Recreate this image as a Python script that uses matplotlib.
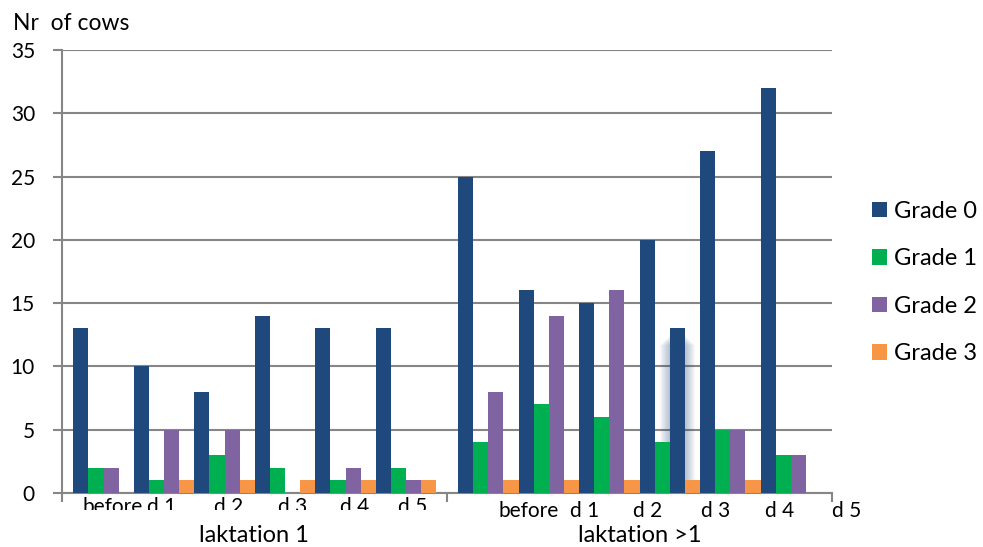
import numpy as np
import matplotlib
matplotlib.use("Agg")
from matplotlib import pyplot as plt
from matplotlib.transforms import ScaledTranslation, Bbox, TransformedBbox

plt.rcParams['font.family'] = ['Lato', 'DejaVu Sans']

# cows per udder grade, 6 sampling days for each lactation group
phases = ['before', 'd 1', 'd 2', 'd 3', 'd 4', 'd 5']
lactations = ['laktation 1', 'laktation >1']
grade0 = [13, 10, 8, 14, 13, 13, 25, 16, 15, 20, 27, 32]
grade1 = [2, 1, 3, 2, 1, 2, 4, 7, 6, 4, 5, 3]
grade2 = [2, 5, 5, 0, 2, 1, 8, 14, 16, 13, 5, 3]
grade3 = [0, 1, 1, 1, 1, 1, 1, 1, 1, 1, 1, 0]
grade_names = ['Grade 0', 'Grade 1', 'Grade 2', 'Grade 3']
yticks = [0, 5, 10, 15, 20, 25, 30, 35]

colors = ['#1F497D', '#00B050', '#8064A2', '#F79646']
gridc = '#868686'

fig = plt.figure(figsize=(9.83, 5.47), dpi=100)
ax = fig.add_axes([0.0631, 0.0987, 0.7833, 0.8099])

# group centres: second lactation block is pushed right
xpos = np.r_[np.arange(6), np.arange(6) + 6.36]
w = 0.25
series = [grade0, grade1, grade2, grade3]
containers = []
for k, vals in enumerate(series):
    bc = ax.bar(xpos + (k - 1.5) * w, vals, w, color=colors[k], zorder=3,
                linewidth=0)
    containers.append(bc)

# odd bar in the d 2 group of laktation >1, dark with a soft halo
odd = 9
containers[2][odd].set_facecolor(colors[0])
for s in range(1, 11):
    ax.bar(xpos[odd] + 0.5 * w, grade2[odd] - 0.5 - s * 0.08, w + s * 0.034,
           color='#1F497D', alpha=0.035, zorder=2, linewidth=0)

ax.set_ylim(0, 35)
ax.set_xlim(-0.686, 12.04)
ax.set_yticks(yticks)
ax.set_yticklabels([str(v) for v in yticks])
ax.yaxis.grid(True, color=gridc, linewidth=1.5, zorder=0)
ax.set_axisbelow(True)
ax.tick_params(axis='y', length=6.5, width=1.5, color=gridc, pad=13,
               labelsize=15)

# category block boundaries on the x axis
ax.set_xticks([-0.686, 5.678, 12.04])
ax.set_xticklabels([])
ax.tick_params(axis='x', length=6.5, width=1.5, color=gridc)

for side in ['top', 'right']:
    ax.spines[side].set_visible(False)
for side in ['left', 'bottom']:
    ax.spines[side].set_color(gridc)
    ax.spines[side].set_linewidth(1.5)

# day labels under each block
lab1_x = [0.157, 0.967, 2.074, 3.124, 4.157, 5.107]
lab2_x = [7.025, 7.95, 8.99, 10.12, 11.17, 12.28]
clip = TransformedBbox(Bbox([[0, 37 / 547], [1, 1]]), fig.transFigure)
down1 = ax.get_xaxis_transform() + ScaledTranslation(0, -0.20, fig.dpi_scale_trans)
down2 = ax.get_xaxis_transform() + ScaledTranslation(0, -0.24, fig.dpi_scale_trans)
for x, s in zip(lab1_x, phases):
    t = fig.text(x, 0, s, transform=down1, ha='center', va='baseline',
                 fontsize=15)
    t.set_clip_box(clip)
    t.set_clip_on(True)
for x, s in zip(lab2_x, phases):
    fig.text(x, 0, s, transform=down2, ha='center', va='baseline', fontsize=15)

down3 = ax.get_xaxis_transform() + ScaledTranslation(0, -0.49, fig.dpi_scale_trans)
for x, s in zip([2.48, 8.87], lactations):
    fig.text(x, 0, s, transform=down3, ha='center', va='baseline', fontsize=17)

fig.text(13 / 983, 1 - 30 / 547, 'Nr  of cows', ha='left', va='baseline',
         fontsize=16.5)

ax.legend(containers, grade_names, loc='center left',
          bbox_to_anchor=(872 / 983, 1 - 282.5 / 547),
          bbox_transform=fig.transFigure, frameon=False, fontsize=17,
          handlelength=0.64, handleheight=0.64, handletextpad=0.3,
          labelspacing=1.12, borderpad=0, borderaxespad=0)

fig.savefig('out.png', dpi=100)
